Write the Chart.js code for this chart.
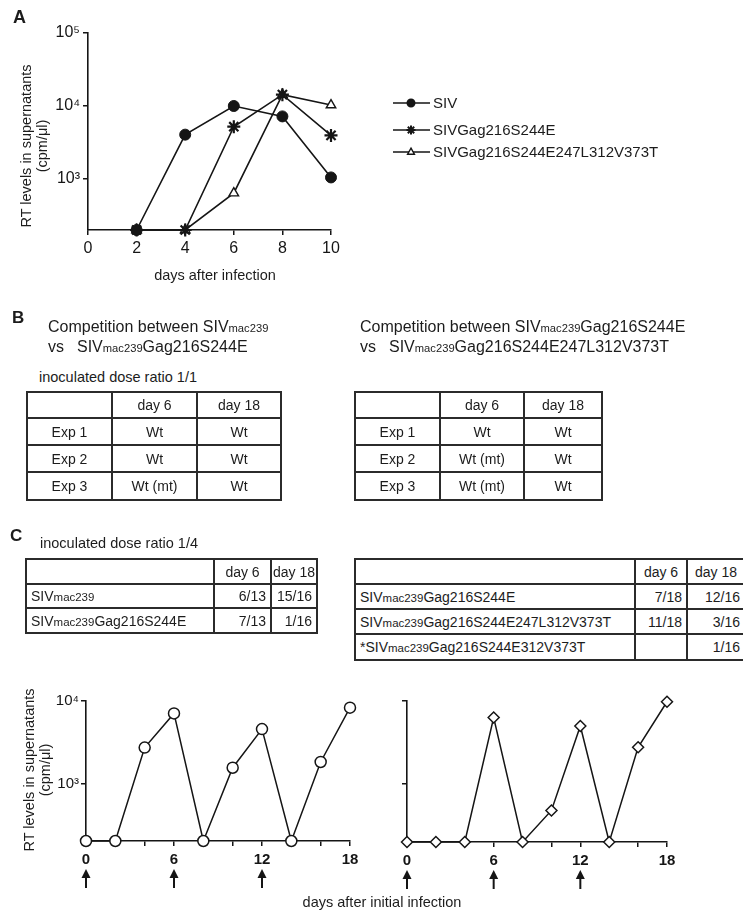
<!DOCTYPE html>
<html><head><meta charset="utf-8">
<script src="https://cdn.jsdelivr.net/npm/chart.js@4.4.1/dist/chart.umd.min.js"></script>
<style>
html,body{margin:0;padding:0;background:#fff;width:743px;height:911px;overflow:hidden;}
body{position:relative;font-family:"Liberation Sans",Arial,Helvetica,sans-serif;color:#1c1c1c;}
.t{position:absolute;white-space:nowrap;line-height:1;}
.b{font-weight:bold;}
.sm{font-size:0.7em;}
canvas{position:absolute;}
.tb{position:absolute;border-collapse:collapse;table-layout:fixed;font-size:14px;}
.tb td{border:2px solid #2b2b2b;padding:0;text-align:center;white-space:nowrap;overflow:hidden;}
.tb td .sm{font-size:0.82em;}
.tb td.l{text-align:left;padding-left:4px;}
.tb td.r{text-align:right;padding-right:4px;}
.tb td.c{text-align:center;}
.rot{position:absolute;transform:translate(-50%,-50%) rotate(-90deg);text-align:center;white-space:nowrap;font-size:14.5px;line-height:16px;}
.ct{position:absolute;transform:translate(-50%,-50%);white-space:nowrap;line-height:1;font-size:14.5px;}
</style></head>
<body>
<canvas id="cA" width="743" height="290" style="left:0;top:0;width:743px;height:290px"></canvas>
<canvas id="cC1" width="380" height="231" style="left:0;top:680px;width:380px;height:231px"></canvas>
<canvas id="cC2" width="363" height="231" style="left:380px;top:680px;width:363px;height:231px"></canvas>

<div class="t b" style="left:13px;top:8px;font-size:18px">A</div>
<div class="rot" style="left:34px;top:146px">RT levels in supernatants<br>(cpm/μl)</div>
<div class="ct" style="left:215px;top:275px">days after infection</div>

<div class="t b" style="left:12px;top:309px;font-size:17px">B</div>
<div class="t" style="left:48px;top:319px;font-size:16px">Competition between SIV<span class="sm">mac239</span></div>
<div class="t" style="left:48px;top:339px;font-size:16px">vs<span style="display:inline-block;width:13px"></span>SIV<span class="sm">mac239</span>Gag216S244E</div>
<div class="t" style="left:360px;top:319px;font-size:16px">Competition between SIV<span class="sm">mac239</span>Gag216S244E</div>
<div class="t" style="left:360px;top:339px;font-size:16px">vs<span style="display:inline-block;width:13px"></span>SIV<span class="sm">mac239</span>Gag216S244E247L312V373T</div>
<div class="t" style="left:39px;top:370px;font-size:14.5px">inoculated dose ratio 1/1</div>

<div class="t b" style="left:10px;top:527px;font-size:17px">C</div>
<div class="t" style="left:40px;top:536px;font-size:14.5px">inoculated dose ratio 1/4</div>

<div class="rot" style="left:37px;top:770px">RT levels in supernatants<br>(cpm/μl)</div>
<div class="ct" style="left:382px;top:902px">days after initial infection</div>

<script>
// ---------- Panel A data ----------
const daysA = [2, 4, 6, 8, 10];
const sivA = [200, 4050, 10000, 7200, 1050];
const gag216A = [200, 200, 5200, 14300, 3950];
const gag247A = [200, 200, 640, 14300, 10300];
const seriesNamesA = ['SIV', 'SIVGag216S244E', 'SIVGag216S244E247L312V373T'];
const yTickValuesA = [1000, 10000, 100000];
const yTickLabelsA = ['10³', '10⁴', '10⁵'];

// ---------- Panel C data ----------
const daysC = [0, 2, 4, 6, 8, 10, 12, 14, 16, 18];
const leftC = [200, 200, 2720, 7070, 200, 1550, 4560, 200, 1820, 8300];
const rightC = [200, 200, 200, 6320, 200, 480, 5000, 200, 2770, 9800];
const yTickValuesC = [1000, 10000];
const yTickLabelsC = ['10³', '10⁴'];
const xLabelDaysC = [0, 6, 12, 18];
const passageDays = [0, 6, 12];

// ---------- Tables ----------
const tableHeaderB = ['', 'day 6', 'day 18'];
const tableB1Rows = [['Exp 1', 'Wt', 'Wt'], ['Exp 2', 'Wt', 'Wt'], ['Exp 3', 'Wt (mt)', 'Wt']];
const tableB2Rows = [['Exp 1', 'Wt', 'Wt'], ['Exp 2', 'Wt (mt)', 'Wt'], ['Exp 3', 'Wt (mt)', 'Wt']];
const tableHeaderC = ['', 'day 6', 'day 18'];
const tableC1Rows = [['SIV{mac239}', '6/13', '15/16'], ['SIV{mac239}Gag216S244E', '7/13', '1/16']];
const tableC2Rows = [['SIV{mac239}Gag216S244E', '7/18', '12/16'], ['SIV{mac239}Gag216S244E247L312V373T', '11/18', '3/16'], ['*SIV{mac239}Gag216S244E312V373T', '', '1/16']];

function fmt(s) { return s.replace(/\{(.*?)\}/g, '<span class="sm">$1</span>'); }
function buildTable(left, top, cols, rowH, header, rows, mode) {
  const t = document.createElement('table');
  t.className = 'tb';
  t.style.left = left + 'px'; t.style.top = top + 'px';
  t.style.width = cols.reduce((a, b) => a + b, 0) + 'px';
  const cg = document.createElement('colgroup');
  cols.forEach(w => { const c = document.createElement('col'); c.style.width = w + 'px'; cg.appendChild(c); });
  t.appendChild(cg);
  [header].concat(rows).forEach((r, ri) => {
    const tr = document.createElement('tr');
    tr.style.height = rowH[ri] + 'px';
    r.forEach((cell, ci) => {
      const td = document.createElement('td');
      if (mode === 'C') {
        if (ri === 0) td.className = 'c';
        else td.className = ci === 0 ? 'l' : 'r';
      }
      td.innerHTML = fmt(cell);
      tr.appendChild(td);
    });
    t.appendChild(tr);
  });
  document.body.appendChild(t);
}
buildTable(26, 391, [85, 85, 84], [26, 27, 27, 28], tableHeaderB, tableB1Rows, 'B');
buildTable(354, 391, [85, 84, 78], [26, 27, 27, 28], tableHeaderB, tableB2Rows, 'B');
buildTable(25, 558, [188, 57, 46], [25, 24, 25], tableHeaderC, tableC1Rows, 'C');
buildTable(354, 558, [280, 52, 58], [25, 25, 25, 26], tableHeaderC, tableC2Rows, 'C');

// ---------- Common chart helpers ----------
const INK = '#151515';
const FONT = '"Liberation Sans", Arial, sans-serif';
function pts(xs, ys) { return xs.map((x, i) => ({ x: x, y: ys[i] })); }
function axisGrid(len) { return { display: true, drawOnChartArea: false, drawTicks: true, tickLength: len, color: INK, lineWidth: 1.5 }; }
const axisBorder = { display: true, color: INK, width: 1.6 };
function fixX(h) { return function (s) { s.height = h; s.paddingLeft = 0; s.paddingRight = 0; }; }
function fixY(w) { return function (s) { s.width = w; s.paddingTop = 0; s.paddingBottom = 0; }; }

function drawMarker(ctx, style, x, y, r, fill) {
  ctx.beginPath();
  if (style === 'circle') ctx.arc(x, y, r, 0, Math.PI * 2);
  else if (style === 'triangle') { ctx.moveTo(x, y - r); ctx.lineTo(x + r * 0.9, y + r * 0.6); ctx.lineTo(x - r * 0.9, y + r * 0.6); ctx.closePath(); }
  else if (style === 'star') { for (let k = 0; k < 4; k++) { const a = k * Math.PI / 4; ctx.moveTo(x + Math.cos(a) * r, y + Math.sin(a) * r); ctx.lineTo(x - Math.cos(a) * r, y - Math.sin(a) * r); } }
  if (style !== 'star') { ctx.fillStyle = fill; ctx.fill(); }
  ctx.stroke();
}

const legendPlugin = {
  id: 'lineLegend',
  afterDraw(chart) {
    const ctx = chart.ctx;
    const ys = [103, 130, 152];
    chart.data.datasets.forEach((ds, i) => {
      const y = ys[i];
      ctx.save();
      ctx.strokeStyle = INK; ctx.lineWidth = 1.6;
      ctx.beginPath(); ctx.moveTo(393, y); ctx.lineTo(430, y); ctx.stroke();
      ctx.lineWidth = ds.pointStyle === 'star' ? 2 : 1.4;
      drawMarker(ctx, ds.pointStyle, 411, y, ds.pointStyle === 'star' ? 4.5 : 3.8, ds.pointBackgroundColor);
      ctx.fillStyle = '#1c1c1c'; ctx.font = '15px ' + FONT; ctx.textBaseline = 'middle';
      ctx.fillText(ds.label, 433, y + 1);
      ctx.restore();
    });
  }
};

const arrowPlugin = {
  id: 'arrows',
  afterDraw(chart) {
    const ctx = chart.ctx, xs = chart.scales.x, b = chart.chartArea.bottom;
    ctx.save(); ctx.strokeStyle = INK; ctx.fillStyle = INK; ctx.lineWidth = 2;
    passageDays.forEach(d => {
      const x = xs.getPixelForValue(d);
      ctx.beginPath(); ctx.moveTo(x, b + 34); ctx.lineTo(x, b + 47); ctx.stroke();
      ctx.beginPath(); ctx.moveTo(x, b + 28); ctx.lineTo(x + 4.5, b + 37); ctx.lineTo(x - 4.5, b + 37); ctx.closePath(); ctx.fill();
    });
    ctx.restore();
  }
};

const baseOpts = {
  responsive: false, animation: false, events: [],
  plugins: { legend: { display: false }, tooltip: { enabled: false } },
  elements: { line: { tension: 0 } }
};

// ---------- Panel A ----------
new Chart(document.getElementById('cA'), {
  type: 'line',
  data: {
    datasets: [
      { label: seriesNamesA[0], data: pts(daysA, sivA), borderColor: INK, borderWidth: 1.6, pointStyle: 'circle', pointRadius: 5.5, pointBackgroundColor: INK, pointBorderColor: INK, pointBorderWidth: 1, clip: false },
      { label: seriesNamesA[1], data: pts(daysA, gag216A), borderColor: INK, borderWidth: 1.6, pointStyle: 'star', pointRadius: 6.5, pointBackgroundColor: INK, pointBorderColor: INK, pointBorderWidth: 2.2, clip: false },
      { label: seriesNamesA[2], data: pts(daysA, gag247A), borderColor: INK, borderWidth: 1.6, pointStyle: 'triangle', pointRadius: 5.5, pointBackgroundColor: '#fff', pointBorderColor: INK, pointBorderWidth: 1.4, clip: false }
    ]
  },
  options: Object.assign({}, baseOpts, {
    layout: { padding: { top: 33, right: 412, left: 0, bottom: 0 } },
    scales: {
      x: {
        type: 'linear', min: 0, max: 10,
        ticks: { stepSize: 2, autoSkip: false, maxRotation: 0, color: INK, padding: 4, font: { size: 16, family: FONT } },
        grid: axisGrid(5), border: axisBorder, afterFit: fixX(60)
      },
      y: {
        type: 'logarithmic', min: 200, max: 100000,
        afterBuildTicks(s) { s.ticks = yTickValuesA.map(v => ({ value: v })); },
        ticks: { color: INK, padding: 3, font: { size: 16, family: FONT }, callback: (v) => { const i = yTickValuesA.indexOf(v); return i >= 0 ? yTickLabelsA[i] : ''; } },
        grid: axisGrid(5), border: axisBorder, afterFit: fixY(88)
      }
    }
  }),
  plugins: [legendPlugin]
});

// ---------- Panel C charts ----------
function cChart(id, values, style, radius, yWidth, rightPad, xHeight, showYLabels) {
  return new Chart(document.getElementById(id), {
    type: 'line',
    data: {
      datasets: [{ label: 'RT', data: pts(daysC, values), borderColor: INK, borderWidth: 1.5, pointStyle: style, pointRadius: radius, pointBackgroundColor: '#fff', pointBorderColor: INK, pointBorderWidth: 1.5, clip: false }]
    },
    options: Object.assign({}, baseOpts, {
      layout: { padding: { top: 21, right: rightPad, left: 0, bottom: 0 } },
      scales: {
        x: {
          type: 'linear', min: 0, max: 18,
          ticks: { stepSize: 2, autoSkip: false, maxRotation: 0, color: INK, padding: 5, font: { size: 15, weight: 'bold', family: FONT }, callback: (v) => xLabelDaysC.includes(v) ? String(v) : '' },
          grid: axisGrid(5), border: axisBorder, afterFit: fixX(xHeight)
        },
        y: {
          type: 'logarithmic', min: 200, max: 10000,
          afterBuildTicks(s) { s.ticks = yTickValuesC.map(v => ({ value: v })); },
          ticks: { color: INK, padding: 2, font: { size: 15, family: FONT }, callback: (v) => { if (!showYLabels) return ''; const i = yTickValuesC.indexOf(v); return i >= 0 ? yTickLabelsC[i] : ''; } },
          grid: axisGrid(5), border: axisBorder, afterFit: fixY(yWidth)
        }
      }
    }),
    plugins: [arrowPlugin]
  });
}
cChart('cC1', leftC, 'circle', 5.5, 86, 30, 70, true);
cChart('cC2', rightC, 'rectRot', 5.5, 27, 76, 69, false);
</script>
</body></html>
